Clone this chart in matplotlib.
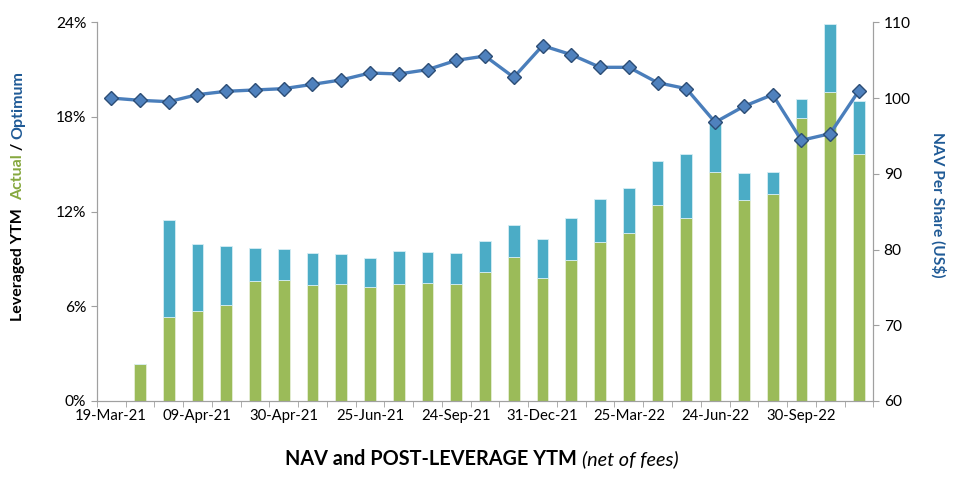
import numpy as np
import matplotlib
matplotlib.use("Agg")
from matplotlib import pyplot as plt

plt.rcParams['font.family'] = ['Lato', 'DejaVu Sans']

# every 3rd category carries a date label
tick_labels = ['19-Mar-21', '09-Apr-21', '30-Apr-21', '25-Jun-21', '24-Sep-21',
               '31-Dec-21', '25-Mar-22', '24-Jun-22', '30-Sep-22']
tick_step = 3

# leveraged YTM (%)
ytm_actual = [np.nan, 2.34, 5.30, 5.70, 6.08, 7.60, 7.67, 7.35, 7.39, 7.22, 7.41, 7.46, 7.41, 8.17,
              9.11, 7.82, 8.94, 10.06, 10.63, 12.44, 11.58, 14.49, 12.72, 13.12, 17.92, 19.59, 15.66]
ytm_optimum = [np.nan, np.nan, 11.45, 9.95, 9.82, 9.67, 9.61, 9.38, 9.33, 9.06, 9.48, 9.46, 9.38, 10.12,
               11.18, 10.29, 11.58, 12.82, 13.50, 15.23, 15.68, 17.56, 14.43, 14.54, 19.12, 23.90, 19.04]
# NAV per share (US$)
nav = [100.0, 99.70, 99.52, 100.45, 100.89, 101.07, 101.24, 101.81, 102.39, 103.31, 103.18, 103.75,
       104.98, 105.55, 102.74, 106.92, 105.73, 104.06, 104.06, 102.03, 101.24, 96.80, 98.91, 100.45,
       94.42, 95.30, 100.98]

green = '#9BBB59'
cyan = '#4BACC6'
navblue = '#4A7EBB'
darkblue = '#1F5A96'
axisgray = '#A0A0A0'

n = len(nav)
x = np.arange(n)
actual = np.array(ytm_actual)
optimum = np.array(ytm_optimum)
gap = np.where(np.isnan(optimum), 0, optimum - np.nan_to_num(actual))

fig = plt.figure(figsize=(9.58, 4.8), dpi=100)
ax = fig.add_axes([0.101, 0.1646, 0.8106, 0.7889])
ax.bar(x, np.nan_to_num(actual), width=0.41, color=green, edgecolor='#E6EFD6', linewidth=0.6, zorder=2)
ax.bar(x, gap, bottom=np.nan_to_num(actual), width=0.41, color=cyan, edgecolor='#D6EEF4',
       linewidth=0.6, zorder=2)
ax.set_xlim(-0.5, n - 0.5)
ax.set_ylim(0, 24)
ax.set_yticks([0, 6, 12, 18, 24])
ax.set_yticklabels(['0%', '6%', '12%', '18%', '24%'])
ax.set_xticks(x[::tick_step])
ax.set_xticklabels(tick_labels)
ax.set_xticks(np.arange(-0.5, n, 1), minor=True)
ax.tick_params(axis='x', which='major', length=0, pad=6, labelsize=10.7)
ax.tick_params(axis='x', which='minor', length=4, color=axisgray, direction='out')
ax.tick_params(axis='y', length=4, color=axisgray, labelsize=11.2)
ax.spines['top'].set_visible(False)
for s in ['left', 'bottom', 'right']:
    ax.spines[s].set_color(axisgray)

ax2 = ax.twinx()
ax2.plot(x, nav, color=navblue, linewidth=2.4, marker='D', markersize=7.5,
         markerfacecolor='#4F81BD', markeredgecolor='#2C4D75', markeredgewidth=1, zorder=3)
ax2.set_ylim(60, 110)
ax2.set_yticks([60, 70, 80, 90, 100, 110])
ax2.tick_params(axis='y', length=4, color=axisgray, labelsize=11.2)
ax2.spines['top'].set_visible(False)
for s in ['left', 'bottom', 'right']:
    ax2.spines[s].set_color(axisgray)
fig.text(938 / 958, 1 - 205 / 480, 'NAV Per Share (US$)', rotation=270, color=darkblue,
         fontsize=11.2, fontweight='bold', ha='center', va='center')

fig.canvas.draw()
r = fig.canvas.get_renderer()

# multi-coloured left label, stacked from bottom upwards
parts = [('Leveraged YTM  ', 'black'), ('Actual', '#86A83F'), (' / ', 'black'), ('Optimum', darkblue)]
texts = []
total = 0
for s, c in parts:
    t = fig.text(0.019, 0, s, rotation=90, color=c, fontsize=11.5, fontweight='bold',
                 ha='center', va='bottom')
    h = t.get_window_extent(r).height
    texts.append((t, h))
    total += h
ypix = 196
start = (480 - ypix) - total / 2
for t, h in texts:
    t.set_y(start / 480)
    start += h

# bottom title: bold + italic pieces
t1 = fig.text(0, 0.031, 'NAV and POST-LEVERAGE YTM ', fontsize=14.3, fontweight='bold', va='baseline')
t2 = fig.text(0, 0.031, '(net of fees)', fontsize=14.3, fontstyle='italic', va='baseline')
w1 = t1.get_window_extent(r).width
w2 = t2.get_window_extent(r).width
x0 = 482 - (w1 + w2) / 2
t1.set_x(x0 / 958)
t2.set_x((x0 + w1) / 958)

fig.savefig('out.png', dpi=100)
